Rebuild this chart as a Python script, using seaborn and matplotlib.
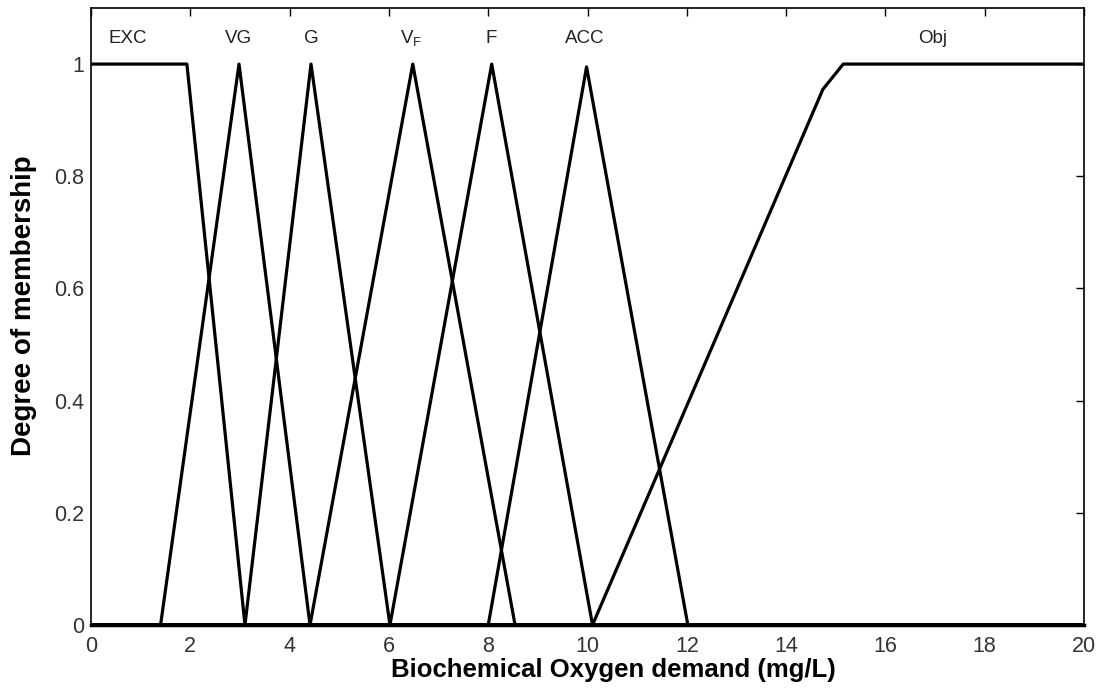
import matplotlib
matplotlib.use("Agg")
import matplotlib.pyplot as plt
import seaborn as sns
import pandas as pd

# Membership function breakpoints (x in mg/L, y membership degree)
exc_x = [0, 1.93, 3.10, 20]
exc_y = [1, 1, 0, 0]
vg_x = [0, 1.40, 2.98, 4.41, 20]
vg_y = [0, 0, 1.0, 0, 0]
g_x = [0, 3.10, 4.43, 6.02, 20]
g_y = [0, 0, 1.0, 0, 0]
vf_x = [0, 4.41, 6.48, 8.54, 20]
vf_y = [0, 0, 1.0, 0, 0]
f_x = [0, 6.02, 8.07, 10.10, 20]
f_y = [0, 0, 1.0, 0, 0]
acc_x = [0, 8.00, 9.98, 12.02, 20]
acc_y = [0, 0, 0.995, 0, 0]
obj_x = [0, 10.10, 14.74, 15.15, 20]
obj_y = [0, 0, 0.955, 1, 1]

names = ["EXC", "VG", "G", "V_F", "F", "ACC", "Obj"]
label_x = [0.73, 2.96, 4.43, 6.45, 8.06, 9.95, 16.96]
label_text = ["EXC", "VG", "G", r"V$_{\mathregular{F}}$", "F", "ACC", "Obj"]

xs = [exc_x, vg_x, g_x, vf_x, f_x, acc_x, obj_x]
ys = [exc_y, vg_y, g_y, vf_y, f_y, acc_y, obj_y]

rows = []
for n, xx, yy in zip(names, xs, ys):
    for a, b in zip(xx, yy):
        rows.append({"mf": n, "x": a, "y": b})
df = pd.DataFrame(rows)

sns.set_theme(style="white")
plt.rcParams["font.family"] = ["Liberation Sans", "DejaVu Sans"]
plt.rcParams["mathtext.fontset"] = "custom"
plt.rcParams["mathtext.rm"] = "Liberation Sans"

fig = plt.figure(figsize=(11.01, 6.88), dpi=100)
ax = fig.add_axes([0.0827, 0.0916, 0.9019, 0.8968])

sns.lineplot(data=df, x="x", y="y", units="mf", estimator=None, sort=False,
             color="black", linewidth=2.3, ax=ax, legend=False)

ax.set_xlim(0, 20)
ax.set_ylim(0, 1.1)
ax.set_xticks(range(0, 21, 2))
ax.set_xticklabels([str(v) for v in range(0, 21, 2)])
ax.set_yticks([0, 0.2, 0.4, 0.6, 0.8, 1.0])
ax.set_yticklabels(["0", "0.2", "0.4", "0.6", "0.8", "1"])
ax.tick_params(direction="in", length=6, width=1, top=True, right=True,
               labelsize=15.5, colors="black", labelcolor="#333333")
ax.tick_params(axis="x", pad=8)
ax.tick_params(axis="y", pad=5)
for s in ax.spines.values():
    s.set_color("black")
    s.set_linewidth(1.2)
ax.spines["bottom"].set_linewidth(2.5)

for lx, lt in zip(label_x, label_text):
    ax.text(lx, 1.045, lt, ha="center", va="center", fontsize=13.5, color="#222222")

ax.set_xlabel("Biochemical Oxygen demand (mg/L)", fontsize=18.5, fontweight="bold",
              color="black")
ax.xaxis.set_label_coords(0.526, -0.054)
ax.set_ylabel("Degree of membership", fontsize=20, fontweight="bold",
              color="black")
ax.yaxis.set_label_coords(-0.054, 0.517)

fig.savefig("out.png", dpi=100)
